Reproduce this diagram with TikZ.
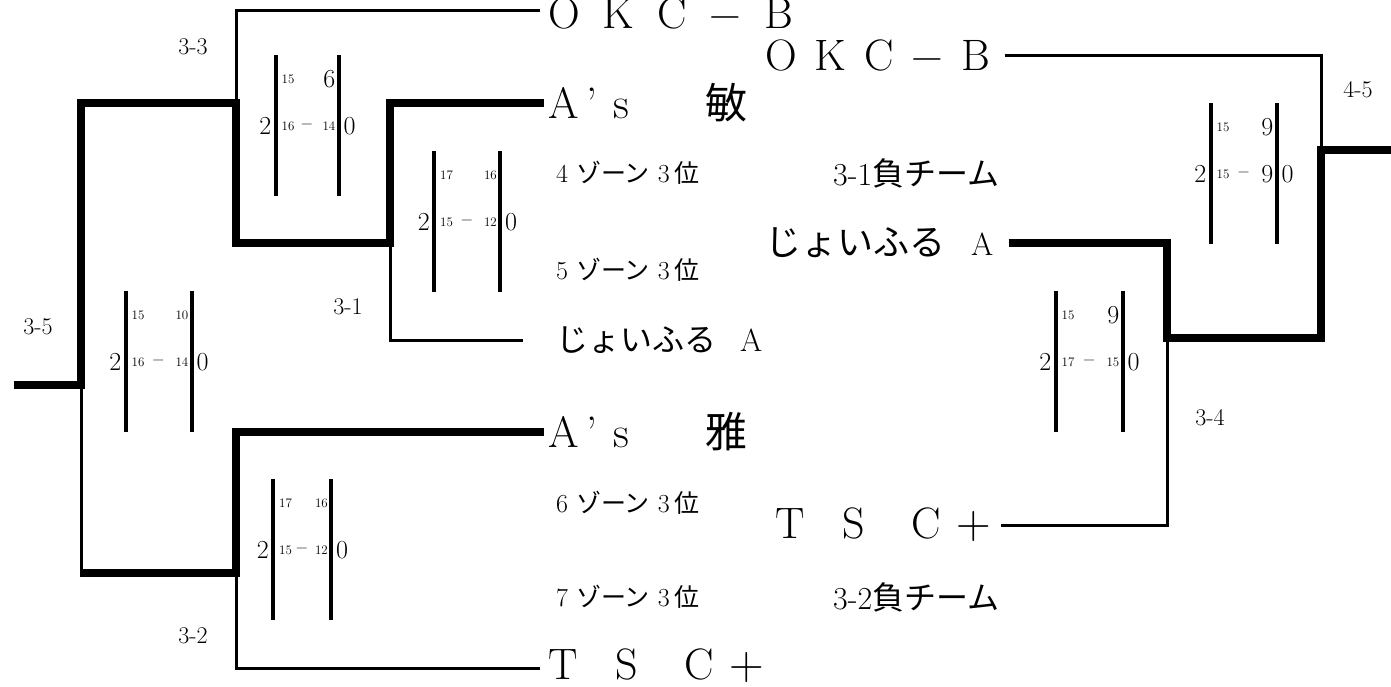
\documentclass[tikz,border=0pt]{standalone}
\usepackage{fontspec}
\setmainfont{Latin Modern Roman}
\newfontfamily\jp{Noto Sans CJK JP}
\newcommand\fs[1]{\fontsize{#1}{#1}\selectfont}
\newcommand\bigd{\fontsize{26}{26}\selectfont}
\newcommand\smd{\fontsize{13}{13}\selectfont}
\newcommand\zonelabel[1]{\fs{26}#1\kern8pt{\jp\fs{25}ゾーン}\kern8pt 3\kern5pt{\jp\fs{25}位}}
\tikzset{
  thinln/.style={line width=3pt},
  thickln/.style={line width=8pt, line join=miter},
  barln/.style={line width=4pt},
  team/.style={anchor=west, inner sep=0pt},
  num/.style={inner sep=0pt},
  rnd/.style={inner sep=0pt, font=\fontsize{24}{24}\selectfont},
}
\newcommand\scorebox[8]{%
  \draw[barln] (#2,#4) -- ++(0,141);
  \draw[barln] (#3,#4) -- ++(0,141);
  \node[num,anchor=west] (#1-tl) at (#2+6,#4+24) {\smd #5};
  \node[num,anchor=east] (#1-tr) at (#3-3,#4+24) {\smd #6};
  \node[num,anchor=west] (#1-ml) at (#2+6,#4+71) {\smd #7};
  \node[num] (#1-dash) at ({(#2+#3)/2},#4+71) {\fs{16}−};
  \node[num,anchor=east] (#1-mr) at (#3-3,#4+71) {\smd #8};
  \node[num,anchor=east] (#1-w) at (#2-4,#4+71) {\bigd 2};
  \node[num,anchor=west] (#1-l) at (#3+5,#4+71) {\bigd 0};
}
\begin{document}
\begin{tikzpicture}[x=1pt,y=-1pt]
\useasboundingbox (0,0) rectangle (1391,686);

% ---- left column teams
\node[team] (okcL) at (548,13) {\fs{44}O\kern23pt K\kern23pt C\kern23pt −\kern23pt B};
\node[team] (asBin) at (548,103) {\fs{44}A\kern8pt’\kern16pt s\kern76pt{\jp\fs{42}敏}};
\node[team] (z4) at (556,173) {\zonelabel{4}};
\node[team] (z5) at (556,270) {\zonelabel{5}};
\node[team] (joyL) at (556,340) {{\jp\fs{32}じょいふる}\kern24pt\fs{32}A};
\node[team] (asGa) at (548,432) {\fs{44}A\kern8pt’\kern16pt s\kern76pt{\jp\fs{42}雅}};
\node[team] (z6) at (556,503) {\zonelabel{6}};
\node[team] (z7) at (556,597) {\zonelabel{7}};
\node[team] (tscL) at (548,666) {\fs{44}T\kern38pt S\kern46pt C\kern16pt{\fs{48}+}};

% ---- right column teams
\node[team] (okcR) at (765,55) {\fs{44}O\kern18pt K\kern18pt C\kern18pt −\kern18pt B};
\node[team] (l31) at (833,173) {\fs{32}3-1{\jp\fs{32}負チーム}};
\node[team] (joyR) at (765,243) {{\jp\fs{36}じょいふる}\kern26pt\fs{32}A};
\node[team] (tscR) at (775,525) {\fs{44}T\kern38pt S\kern46pt C\kern16pt{\fs{48}+}};
\node[team] (l32) at (833,597) {\fs{32}3-2{\jp\fs{32}負チーム}};

% ---- junctions
\coordinate (o31) at (390,243);
\coordinate (o33) at (236,103);
\coordinate (o32) at (236,573);
\coordinate (c35) at (81,573);
\coordinate (o35) at (81,385);
\coordinate (e35) at (14,385);
\coordinate (o34) at (1167,338);
\coordinate (o45) at (1321,150);
\coordinate (e45) at (1391,150);

% ---- thin (losing) lines
\draw[thinln] ([xshift=-8pt,yshift=3pt]okcL.west) -| (o33);
\draw[thinln] ([xshift=-33pt]joyL.west) -| (o31);
\draw[thinln] ([xshift=-8pt,yshift=-2pt]tscL.west) -| (o32);
\draw[thinln] (c35) -- (o35);
\draw[thinln] ([xshift=14pt]okcR.east) -| (o45);
\draw[thinln] ([xshift=10pt]tscR.east) -| (o34);

% ---- thick (winning) lines
\draw[thickln] ([xshift=-4pt]asBin.west) -| (o31) -| (o33) -| (o35) -- (e35);
\draw[thickln] ([xshift=-4pt]asGa.west) -| (o32) -- ([xshift=-1pt]c35);
\draw[thickln] ([xshift=15pt]joyR.east) -| (o34) -| (o45) -- (e45);

% ---- score boxes
\scorebox{s35}{125.5}{191.5}{291}{15}{10}{16}{14}
\scorebox{s33}{275.5}{338.5}{55}{15}{\bigd 6}{16}{14}
\scorebox{s31}{434}{500}{151}{17}{16}{15}{12}
\scorebox{s32}{273}{331}{479}{17}{16}{15}{12}
\scorebox{s45}{1210.5}{1276.5}{103}{15}{\bigd 9}{15}{\bigd 9}
\scorebox{s34}{1055.5}{1122.5}{291}{15}{\bigd 9}{17}{15}

% ---- round labels
\node[rnd] (r33) at (193,47) {3-3};
\node[rnd] (r35) at (38,327) {3-5};
\node[rnd] (r31) at (348,307) {3-1};
\node[rnd] (r32) at (193,636) {3-2};
\node[rnd] (r45) at (1358,90) {4-5};
\node[rnd] (r34) at (1210,418) {3-4};
\end{tikzpicture}
\end{document}
